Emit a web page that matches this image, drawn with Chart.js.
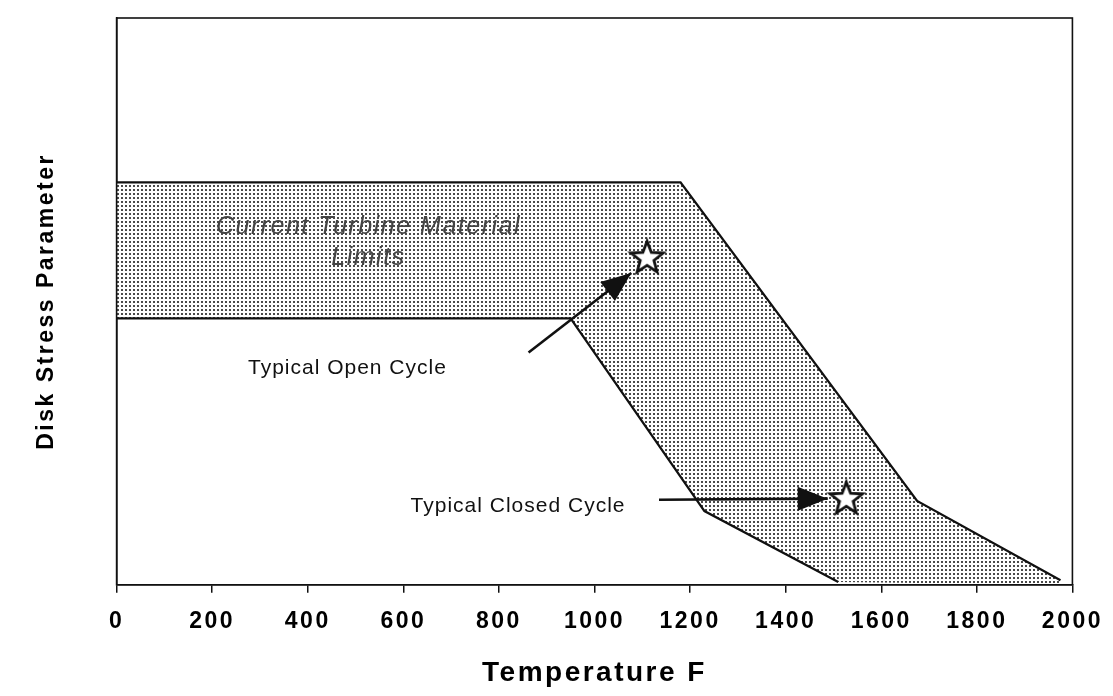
<!DOCTYPE html>
<html>
<head>
<meta charset="utf-8">
<title>Disk Stress Parameter vs Temperature</title>
<script src="https://cdn.jsdelivr.net/npm/chart.js@4.4.1/dist/chart.umd.min.js"></script>
<style>
  html, body { margin: 0; padding: 0; background: #fff; }
  #wrap { width: 1113px; height: 696px; }
</style>
</head>
<body>
<div id="wrap"><canvas id="chart" width="1113" height="696"></canvas></div>
<script>
// values (y axis has no scale, so 0..10 is used)
const xTicks = [0, 200, 400, 600, 800, 1000, 1200, 1400, 1600, 1800, 2000];

// upper edge of the material limit band
const upperX = [0, 1180, 1675, 1975];
const upperY = [7.1, 7.1, 1.48, 0.08];

// lower edge (last point only closes the fill along the axis)
const lowerX = [0, 950, 1230, 1510, 1975];
const lowerY = [4.7, 4.7, 1.3, 0.05, 0];

// the two design points (stars)
const starX = [1110, 1527];
const starY = [5.78, 1.53];

// arrows: tail -> tip
const openArrowX = [862, 1077];
const openArrowY = [4.1, 5.5];
const closedArrowX = [1135, 1488];
const closedArrowY = [1.5, 1.52];

// text notes inside the plot
const noteText = ['Current Turbine Material', 'Limits', 'Typical Open Cycle', 'Typical Closed Cycle'];
const noteX = [527, 527, 483, 840];
const noteY = [6.32, 5.77, 3.82, 1.38];

const toPoints = (xs, ys) => xs.map((x, i) => ({ x: x, y: ys[i] }));

// dotted fill like the original print
function makeDots() {
    const c = document.createElement('canvas');
    c.width = 4; c.height = 4;
    const g = c.getContext('2d');
    g.fillStyle = '#ffffff';
    g.fillRect(0, 0, 4, 4);
    g.fillStyle = '#4a4a4a';
    g.fillRect(1, 1, 2, 2);
    return g.createPattern(c, 'repeat');
}

// outlined five point star
function makeStar() {
    const c = document.createElement('canvas');
    c.width = 40; c.height = 40;
    const g = c.getContext('2d');
    const R = 17, r = 7.2;
    g.beginPath();
    for (let i = 0; i < 10; i++) {
        const a = -Math.PI / 2 + i * Math.PI / 5;
        const rad = i % 2 === 0 ? R : r;
        const px = 20 + rad * Math.cos(a), py = 21 + rad * Math.sin(a);
        if (i === 0) g.moveTo(px, py); else g.lineTo(px, py);
    }
    g.closePath();
    g.fillStyle = '#ffffff';
    g.fill();
    g.lineWidth = 2.8;
    g.lineJoin = 'miter';
    g.strokeStyle = '#111';
    g.stroke();
    return c;
}

const ink = '#111111';

// box round the plot + letter spacing for the scanned look
const framePlugin = {
    id: 'frame',
    beforeDraw(chart) {
        chart.ctx.letterSpacing = '2.5px';
    },
    afterDatasetsDraw(chart) {
        const { ctx, chartArea: a } = chart;
        ctx.save();
        ctx.strokeStyle = ink;
        ctx.lineWidth = 1.6;
        ctx.strokeRect(a.left, a.top, a.right - a.left, a.bottom - a.top);
        ctx.restore();
    }
};

// arrow heads at the last point of the arrow datasets
const arrowPlugin = {
    id: 'arrowHeads',
    afterDatasetsDraw(chart) {
        const ctx = chart.ctx;
        chart.data.datasets.forEach((ds, i) => {
            if (!ds.arrow) return;
            const pts = chart.getDatasetMeta(i).data;
            const p0 = pts[0], p1 = pts[pts.length - 1];
            const ang = Math.atan2(p1.y - p0.y, p1.x - p0.x);
            const len = 30, half = 12;
            ctx.save();
            ctx.translate(p1.x, p1.y);
            ctx.rotate(ang);
            ctx.beginPath();
            ctx.moveTo(0, 0);
            ctx.lineTo(-len, -half);
            ctx.lineTo(-len, half);
            ctx.closePath();
            ctx.fillStyle = ink;
            ctx.fill();
            ctx.restore();
        });
    }
};

// notes placed by data value
const notePlugin = {
    id: 'notes',
    afterDatasetsDraw(chart) {
        const ctx = chart.ctx;
        const xs = chart.scales.x, ys = chart.scales.y;
        ctx.save();
        ctx.textAlign = 'center';
        ctx.textBaseline = 'middle';
        noteText.forEach((t, i) => {
            if (i < 2) {
                ctx.font = 'italic 25px "Liberation Sans", Arial, sans-serif';
                ctx.letterSpacing = '1.5px';
                ctx.fillStyle = '#444';
            } else {
                ctx.font = '21px "Liberation Sans", Arial, sans-serif';
                ctx.letterSpacing = '1px';
                ctx.fillStyle = ink;
            }
            ctx.fillText(t, xs.getPixelForValue(noteX[i]), ys.getPixelForValue(noteY[i]));
        });
        ctx.restore();
    }
};

const ctx = document.getElementById('chart').getContext('2d');
new Chart(ctx, {
    type: 'scatter',
    data: {
        datasets: [
            {
                label: 'upper',
                data: toPoints(upperX, upperY),
                showLine: true,
                borderColor: ink,
                borderWidth: 2.3,
                pointRadius: 0,
                fill: '+1',
                backgroundColor: makeDots()
            },
            {
                label: 'lower',
                data: toPoints(lowerX, lowerY),
                showLine: true,
                borderColor: ink,
                borderWidth: 2.3,
                pointRadius: 0,
                fill: false,
                segment: {
                    borderColor: c => c.p0.parsed.x >= lowerX[3] ? 'rgba(0,0,0,0)' : ink
                }
            },
            {
                label: 'open arrow',
                arrow: true,
                data: toPoints(openArrowX, openArrowY),
                showLine: true,
                borderColor: ink,
                borderWidth: 2.6,
                pointRadius: 0,
                fill: false
            },
            {
                label: 'closed arrow',
                arrow: true,
                data: toPoints(closedArrowX, closedArrowY),
                showLine: true,
                borderColor: ink,
                borderWidth: 2.6,
                pointRadius: 0,
                fill: false
            },
            {
                label: 'cycles',
                data: toPoints(starX, starY),
                pointStyle: makeStar(),
                pointRadius: 17
            }
        ]
    },
    options: {
        responsive: false,
        animation: false,
        events: [],
        layout: { padding: { top: 14, right: 37, left: 0, bottom: 0 } },
        plugins: {
            legend: { display: false },
            tooltip: { enabled: false },
            filler: { drawTime: 'beforeDatasetsDraw' }
        },
        scales: {
            x: {
                type: 'linear',
                min: 0,
                max: 2000,
                afterBuildTicks: s => { s.ticks = xTicks.map(v => ({ value: v })); },
                grid: { display: true, drawOnChartArea: false, drawTicks: true, tickLength: 8, color: ink, lineWidth: 1.5 },
                border: { display: true, color: ink, width: 1.6 },
                ticks: {
                    color: '#000',
                    padding: 15,
                    maxRotation: 0,
                    callback: v => String(v),
                    font: { family: '"Liberation Sans", Arial, sans-serif', size: 23, weight: 'bold' }
                },
                title: {
                    display: true,
                    text: 'Temperature F',
                    color: '#000',
                    padding: { top: 6, bottom: 6 },
                    font: { family: '"Liberation Sans", Arial, sans-serif', size: 28, weight: 'bold' }
                }
            },
            y: {
                type: 'linear',
                min: 0,
                max: 10,
                grid: { display: false, drawTicks: false },
                border: { display: true, color: ink, width: 1.6 },
                ticks: { display: false },
                title: {
                    display: true,
                    text: 'Disk Stress Parameter',
                    color: '#000',
                    padding: { top: 33, bottom: 56 },
                    font: { family: '"Liberation Sans", Arial, sans-serif', size: 23, weight: 'bold' }
                }
            }
        }
    },
    plugins: [framePlugin, arrowPlugin, notePlugin]
});
</script>
</body>
</html>
